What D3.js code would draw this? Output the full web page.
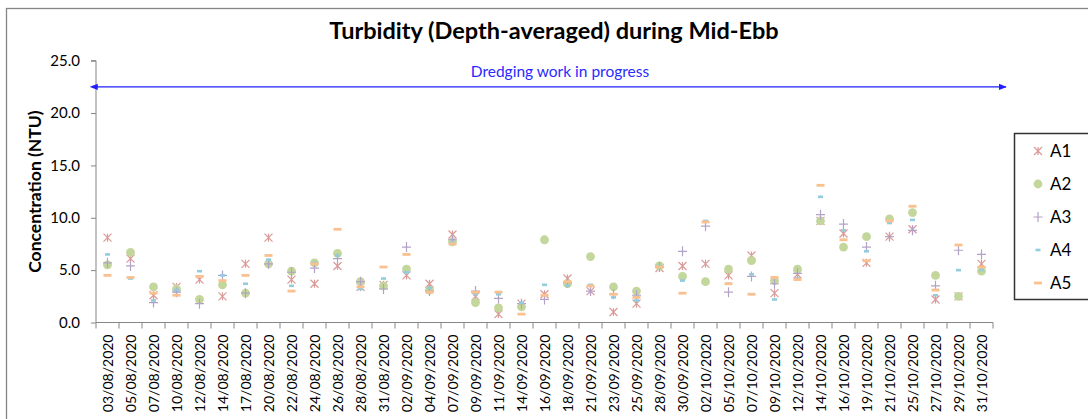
<!DOCTYPE html>
<html>
<head>
<meta charset="utf-8">
<script src="https://cdn.jsdelivr.net/npm/d3@7"></script>
<style>
  body { margin: 0; background: #fff; }
  svg { display: block; font-family: Lato, "Open Sans", sans-serif; }
</style>
</head>
<body>
<div id="container"></div>
<script>
const width = 1088, height = 419;
const margin = { top: 60.7, left: 96, right: 95, bottom: 96.5 };

// Sampling dates
const dates = ["03/08/2020","05/08/2020","07/08/2020","10/08/2020","12/08/2020","14/08/2020","17/08/2020","20/08/2020","22/08/2020","24/08/2020",
  "26/08/2020","28/08/2020","31/08/2020","02/09/2020","04/09/2020","07/09/2020","09/09/2020","11/09/2020","14/09/2020","16/09/2020",
  "18/09/2020","21/09/2020","23/09/2020","25/09/2020","28/09/2020","30/09/2020","02/10/2020","05/10/2020","07/10/2020","09/10/2020",
  "12/10/2020","14/10/2020","16/10/2020","19/10/2020","21/10/2020","25/10/2020","27/10/2020","29/10/2020","31/10/2020"];

// turbidity per station (NTU)
const A1 = [8.1,6.1,2.6,3.4,4.1,2.5,5.6,8.1,4.1,3.7, 5.4,3.4,3.6,4.5,3.7,8.4,2.5,0.8,1.8,2.7, 4.2,3.0,1.0,1.8,5.2,5.4,5.6,4.5,6.4,2.8, 4.6,9.7,8.5,5.7,8.2,8.9,2.2,2.5,5.6];
const A2 = [5.5,6.7,3.4,3.2,2.2,3.6,2.8,5.6,4.9,5.7, 6.6,3.9,3.5,5.1,3.1,7.7,1.9,1.4,1.5,7.9, 3.7,6.3,3.4,3.0,5.4,4.4,3.9,5.1,5.9,4.0, 5.1,9.7,7.2,8.2,9.9,10.5,4.5,2.5,4.9];
const A3 = [5.7,5.4,1.9,2.9,1.8,4.5,2.8,5.6,4.8,5.2, 6.1,3.9,3.2,7.2,3.0,7.9,3.0,2.3,1.8,2.2, 3.8,3.0,2.7,2.6,5.3,6.8,9.2,2.9,4.4,3.7, 4.7,10.3,9.4,7.2,8.2,8.8,3.5,6.9,6.5];
const A4 = [6.5,4.2,2.1,3.1,4.9,4.5,3.7,6.0,3.5,5.7, 6.4,3.2,4.2,4.8,3.3,7.6,2.7,2.7,1.9,3.6, 3.5,3.6,2.4,2.1,5.4,4.0,9.7,3.7,4.6,2.2, 4.2,12.0,8.8,6.8,9.5,9.8,2.6,5.0,5.0];
const A5 = [4.5,4.3,2.8,2.6,4.4,4.0,4.5,6.4,3.0,5.6, 8.9,3.4,5.3,6.5,2.9,7.5,2.9,2.9,0.8,2.6, 3.9,3.5,2.7,2.4,5.3,2.8,9.6,3.7,2.7,4.3, 4.1,13.1,7.9,5.9,9.7,11.1,3.1,7.4,5.3];

const series = [
  { name: "A1", values: A1, color: "#da9a98", shape: "star" },
  { name: "A2", values: A2, color: "#c3d69b", shape: "circle" },
  { name: "A3", values: A3, color: "#b3a2c7", shape: "plus" },
  { name: "A4", values: A4, color: "#93cddd", shape: "dash" },
  { name: "A5", values: A5, color: "#fac090", shape: "longdash" }
];
const yTicks = [0, 5, 10, 15, 20, 25];

const svg = d3.select("#container")
  .append("svg")
  .attr("width", width)
  .attr("height", height);

// chart frame
svg.append("rect")
  .attr("x", 6.5).attr("y", 8.5)
  .attr("width", width + 20).attr("height", height + 20)
  .attr("fill", "none")
  .attr("stroke", "#868686")
  .attr("stroke-width", 1.3);

const xScale = d3.scaleBand()
  .domain(dates)
  .range([margin.left, width - margin.right]);

const yScale = d3.scaleLinear()
  .domain([0, 25])
  .range([height - margin.bottom, margin.top]);

// y axis
svg.append("g")
  .attr("transform", `translate(${margin.left},0)`)
  .call(d3.axisLeft(yScale).tickValues(yTicks).tickFormat(d3.format(".1f")).tickSize(5).tickPadding(11))
  .call(g => g.select(".domain").attr("stroke", "#868686").attr("d", `M-5,${yScale(25)}H0V${yScale(0)}`))
  .call(g => g.selectAll(".tick line").attr("stroke", "#868686"))
  .call(g => g.selectAll(".tick text").attr("font-size", 15).attr("fill", "#000")
    .attr("font-family", "Lato, sans-serif"));

// x axis: ticks at category boundaries
const xAxisG = svg.append("g")
  .attr("transform", `translate(0,${yScale(0)})`);
xAxisG.append("path")
  .attr("d", `M${xScale.range()[0]},0H${xScale.range()[1]}`)
  .attr("stroke", "#868686");
xAxisG.selectAll("line.bound")
  .data(dates.concat(["end"]))
  .enter().append("line")
  .attr("class", "bound")
  .attr("x1", (d, i) => xScale.range()[0] + i * xScale.bandwidth())
  .attr("x2", (d, i) => xScale.range()[0] + i * xScale.bandwidth())
  .attr("y1", 0).attr("y2", 6)
  .attr("stroke", "#868686");
xAxisG.selectAll("text")
  .data(dates)
  .enter().append("text")
  .attr("transform", d => `translate(${xScale(d) + xScale.bandwidth() / 2 + 5},12) rotate(-90)`)
  .attr("text-anchor", "end")
  .attr("font-size", 14)
  .text(d => d);

// title
svg.append("text")
  .attr("x", 554).attr("y", 39)
  .attr("text-anchor", "middle")
  .attr("font-size", 23.5)
  .attr("font-weight", "bold")
  .text("Turbidity (Depth-averaged) during Mid-Ebb");

// y label
svg.append("text")
  .attr("transform", `translate(41,${(yScale(0) + yScale(25)) / 2}) rotate(-90)`)
  .attr("text-anchor", "middle")
  .attr("font-size", 17.5)
  .attr("font-weight", "bold")
  .text("Concentration (NTU)");

// dredging arrow
const arrowY = yScale(22.5);
const defs = svg.append("defs");
["start", "end"].forEach(k => {
  defs.append("marker")
    .attr("id", "arr-" + k)
    .attr("viewBox", "0 0 10 10")
    .attr("refX", k === "end" ? 9 : 1).attr("refY", 5)
    .attr("markerWidth", 6).attr("markerHeight", 6)
    .attr("orient", "auto-start-reverse")
    .append("path")
    .attr("d", "M0,1L10,5L0,9Z")
    .attr("fill", "#1f1fff");
});
svg.append("line")
  .attr("x1", margin.left + 1).attr("x2", 1006)
  .attr("y1", arrowY).attr("y2", arrowY)
  .attr("stroke", "#1f1fff")
  .attr("stroke-width", 1.3)
  .attr("marker-start", "url(#arr-start)")
  .attr("marker-end", "url(#arr-end)");
svg.append("text")
  .attr("x", 560).attr("y", 77)
  .attr("text-anchor", "middle")
  .attr("font-size", 15.5)
  .attr("fill", "#2a2aff")
  .text("Dredging work in progress");

// marker drawing
function markerPath(shape) {
  switch (shape) {
    case "star": return "M-4,-4L4,4M-4,4L4,-4M0,-4V4";
    case "plus": return "M-4.5,0H4.5M0,-5V5";
    default: return "";
  }
}
function drawMarker(g, s) {
  if (s.shape === "circle") {
    g.append("circle").attr("r", 4.4).attr("fill", s.color);
  } else if (s.shape === "dash") {
    g.append("rect").attr("x", -2.5).attr("y", -1.3).attr("width", 5).attr("height", 2.6).attr("fill", s.color);
  } else if (s.shape === "longdash") {
    g.append("rect").attr("x", -4).attr("y", -1.4).attr("width", 8).attr("height", 2.8).attr("fill", s.color);
  } else {
    g.append("path").attr("d", markerPath(s.shape)).attr("stroke", s.color).attr("stroke-width", 1.2).attr("fill", "none");
  }
}

series.forEach(s => {
  svg.append("g").selectAll("g")
    .data(s.values.map((v, i) => ({ date: dates[i], v })))
    .enter().append("g")
    .attr("transform", d => `translate(${xScale(d.date) + xScale.bandwidth() / 2},${yScale(d.v)})`)
    .each(function () { drawMarker(d3.select(this), s); });
});

// legend
const legend = svg.append("g");
legend.append("rect")
  .attr("x", 1014.5).attr("y", 133.5)
  .attr("width", 100).attr("height", 166)
  .attr("fill", "#fff")
  .attr("stroke", "#333")
  .attr("stroke-width", 1.5);
series.forEach((s, i) => {
  const ly = 151 + i * 33;
  const g = legend.append("g").attr("transform", `translate(1038,${ly})`);
  drawMarker(g, s);
  legend.append("text")
    .attr("x", 1050).attr("y", ly + 6)
    .attr("font-size", 17)
    .text(s.name);
});
</script>
</body>
</html>
